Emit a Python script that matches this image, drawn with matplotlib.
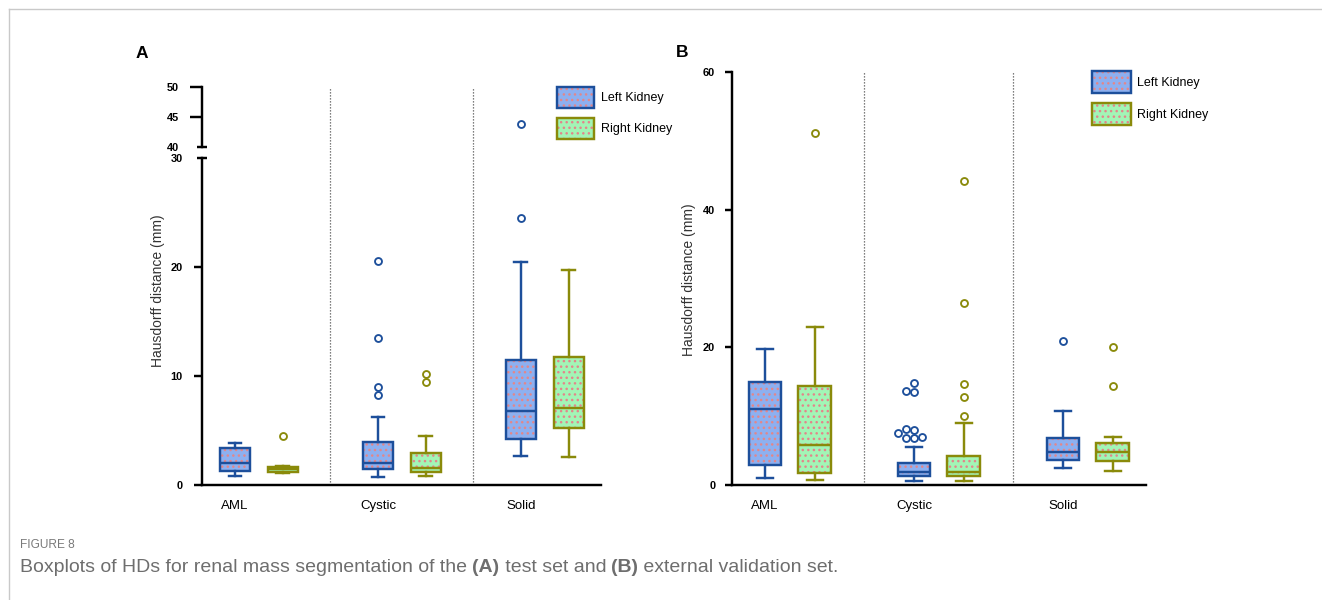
import matplotlib
matplotlib.use('Agg')
import matplotlib.pyplot as plt
from matplotlib.patches import Patch
from matplotlib.lines import Line2D
import numpy as np

plt.rcParams['font.family'] = ['Liberation Sans', 'DejaVu Sans']
plt.rcParams['hatch.linewidth'] = 1.0

# ---------------- data ----------------
categories = ['AML', 'Cystic', 'Solid']
series = ['Left Kidney', 'Right Kidney']

# Panel A (test set)
a_left_q1 = [1.28, 1.44, 4.22]
a_left_med = [1.99, 1.99, 6.79]
a_left_q3 = [3.42, 3.94, 11.47]
a_left_lo = [0.79, 0.70, 2.66]
a_left_hi = [3.88, 6.20, 20.43]
a_left_fliers = [[], [8.26, 9.02, 13.45, 20.55], [24.47, 43.8]]

a_right_q1 = [1.22, 1.17, 5.23]
a_right_med = [1.50, 1.59, 7.09]
a_right_q3 = [1.68, 2.97, 11.71]
a_right_lo = [1.12, 0.83, 2.57]
a_right_hi = [1.70, 4.50, 19.76]
a_right_fliers = [[4.5], [9.42, 10.18], []]

# Panel B (external validation set)
b_left_q1 = [2.90, 1.36, 3.63]
b_left_med = [11.0, 1.94, 4.75]
b_left_q3 = [14.92, 3.15, 6.78]
b_left_lo = [1.02, 0.63, 2.47]
b_left_hi = [19.76, 5.57, 10.8]
b_left_fliers = [[], [6.88, 6.88, 7.02, 7.5, 7.99, 8.14, 13.56, 13.66, 14.77], [20.92]]

b_right_q1 = [1.79, 1.36, 3.49]
b_right_med = [5.81, 1.90, 4.84]
b_right_q3 = [14.38, 4.21, 6.15]
b_right_lo = [0.73, 0.63, 2.08]
b_right_hi = [23.0, 8.96, 6.97]
b_right_fliers = [[51.1], [10.02, 12.78, 14.62, 26.44, 44.17], [14.38, 20.05]]

a_ticks_low = [0, 10, 20, 30]
a_ticks_high = [40, 45, 50]
b_ticks = [0, 20, 40, 60]
ylabel = 'Hausdorff distance (mm)'

# ---------------- style ----------------
W, H = 1322, 600
left_face = '#8db0f0'
left_edge = '#1d4f9b'
right_face = '#a2f5b6'
right_edge = '#8a8a0a'
dot_color = '#e3868a'
LW = 1.75


def make_stats(q1, med, q3, lo, hi):
    return [dict(q1=a, med=b, q3=c, whislo=d, whishi=e, fliers=[])
            for a, b, c, d, e in zip(q1, med, q3, lo, hi)]


def draw_boxes(ax, stats, pos, face, edge, width, capw):
    ax.bxp(stats, positions=pos, widths=width, patch_artist=True, showfliers=False,
           boxprops=dict(facecolor=face, edgecolor=dot_color, linewidth=0, hatch='...'),
           whiskerprops=dict(linewidth=0), capprops=dict(linewidth=0),
           medianprops=dict(linewidth=0), manage_ticks=False, zorder=2)
    ax.bxp(stats, positions=pos, widths=width, patch_artist=True, showfliers=False,
           boxprops=dict(facecolor='none', edgecolor=edge, linewidth=LW, joinstyle='miter'),
           whiskerprops=dict(color=edge, linewidth=LW),
           capprops=dict(color=edge, linewidth=LW),
           medianprops=dict(color=edge, linewidth=LW),
           capwidths=capw, manage_ticks=False, zorder=3)


def swarm_offsets(ax, x, vals, diam_px):
    """Spread coincident outliers sideways (simple swarm)."""
    placed = []
    out = []
    tr = ax.transData
    for v in sorted(vals):
        px0, py = tr.transform((x, v))
        off = 0.0
        cands = [0.0]
        for i in range(1, 12):
            cands += [-0.55 * i * diam_px, 0.55 * i * diam_px]
        for c in cands:
            ok = all((c - ox) ** 2 + (py - oy) ** 2 >= (0.95 * diam_px) ** 2 for ox, oy in placed)
            if ok:
                off = c
                break
        placed.append((off, py))
        out.append((tr.inverted().transform((px0 + off, py))[0], v))
    return out


def draw_fliers(ax, pos, fliers, edge):
    for x, vals in zip(pos, fliers):
        if not vals:
            continue
        pts = swarm_offsets(ax, x, vals, 7.2)
        xs = [p[0] for p in pts]
        ys = [p[1] for p in pts]
        ax.plot(xs, ys, linestyle='none', marker='o', markersize=5.0,
                markerfacecolor='white', markeredgecolor=edge, markeredgewidth=1.35,
                zorder=4)


def style_axis(ax):
    for s in ['top', 'right']:
        ax.spines[s].set_visible(False)
    for s in ['left', 'bottom']:
        ax.spines[s].set_linewidth(LW)
    ax.tick_params(axis='y', width=LW, labelsize=7.9)
    ax.tick_params(axis='x', length=0, labelsize=9.5, pad=11)
    for lab in ax.get_yticklabels():
        lab.set_fontweight('bold')


fig = plt.figure(figsize=(W / 100, H / 100), dpi=100)

# ---------------- Panel A ----------------
ngrp = len(categories)
pos_left = [3 * i for i in range(ngrp)]
pos_right = [3 * i + 1 for i in range(ngrp)]
seps = [3 * i + 2 for i in range(ngrp - 1)]

axA = fig.add_axes([202 / W, 1 - 485 / H, (601 - 202) / W, (485 - 158) / H])
axA2 = fig.add_axes([202 / W, 1 - 147 / H, (601 - 202) / W, (147 - 87) / H])
for ax in (axA, axA2):
    ax.set_xlim(-0.692, 7.68)
    ax.patch.set_alpha(0)
axA.set_ylim(0, 30)
axA2.set_ylim(40, 50)

draw_boxes(axA, make_stats(a_left_q1, a_left_med, a_left_q3, a_left_lo, a_left_hi),
           pos_left, left_face, left_edge, 0.63, 0.27)
draw_boxes(axA, make_stats(a_right_q1, a_right_med, a_right_q3, a_right_lo, a_right_hi),
           pos_right, right_face, right_edge, 0.63, 0.27)
for ax in (axA, axA2):
    draw_fliers(ax, pos_left, a_left_fliers, left_edge)
    draw_fliers(ax, pos_right, a_right_fliers, right_edge)

for s in seps:
    axA.axvline(s, ymin=0, ymax=1 + 11 / 327, color='#555555', linestyle=(0, (1, 1.4)),
                linewidth=0.9, clip_on=False, zorder=1)
    axA2.axvline(s, color='#555555', linestyle=(0, (1, 1.4)), linewidth=0.9, zorder=1)

axA.set_yticks(a_ticks_low)
axA.set_xticks(pos_left)
axA.set_xticklabels(categories)
style_axis(axA)
axA.tick_params(axis='y', length=5.8, pad=8)

axA2.set_yticks(a_ticks_high)
axA2.set_xticks([])
style_axis(axA2)
axA2.spines['bottom'].set_visible(False)
axA2.tick_params(axis='y', length=8.6, pad=8)
for lab in axA2.get_yticklabels():
    lab.set_fontweight('bold')

# break marks at 30 and 40
fig.canvas.draw()
t30 = axA.yaxis.get_major_ticks()[-1]
t30.tick1line.set_marker('_')
t30.tick1line.set_markersize(7)
t30.tick1line.set_markeredgewidth(LW)
t40 = axA2.yaxis.get_major_ticks()[0]
t40.tick1line.set_marker('_')
t40.tick1line.set_markersize(7)
t40.tick1line.set_markeredgewidth(LW)

fig.text(158 / W, 1 - 291 / H, ylabel, rotation=90, ha='center', va='center',
         fontsize=10, color='#333333')
fig.text(136 / W, 1 - 58 / H, 'A', fontsize=12.5, fontweight='bold', ha='left', va='baseline')

legA = [(Patch(facecolor=left_face, edgecolor=dot_color, linewidth=0, hatch='...'),
         Patch(facecolor='none', edgecolor=left_edge, linewidth=LW)),
        (Patch(facecolor=right_face, edgecolor=dot_color, linewidth=0, hatch='...'),
         Patch(facecolor='none', edgecolor=right_edge, linewidth=LW))]
fig.legend(legA, series, loc='upper left', bbox_to_anchor=(557 / W, 1 - 87 / H),
           bbox_transform=fig.transFigure, frameon=False, borderpad=0, borderaxespad=0,
           fontsize=9, handlelength=2.95, handleheight=2.2, labelspacing=0.78,
           handletextpad=0.55)

# ---------------- Panel B ----------------
axB = fig.add_axes([732 / W, 1 - 485 / H, (1146 - 732) / W, (485 - 72) / H])
axB.patch.set_alpha(0)
axB.set_xlim(-0.664, 7.67)
axB.set_ylim(0, 60)
draw_boxes(axB, make_stats(b_left_q1, b_left_med, b_left_q3, b_left_lo, b_left_hi),
           pos_left, left_face, left_edge, 0.66, 0.32)
draw_boxes(axB, make_stats(b_right_q1, b_right_med, b_right_q3, b_right_lo, b_right_hi),
           pos_right, right_face, right_edge, 0.66, 0.32)
draw_fliers(axB, pos_left, b_left_fliers, left_edge)
draw_fliers(axB, pos_right, b_right_fliers, right_edge)
for s in seps:
    axB.axvline(s, color='#555555', linestyle=(0, (1, 1.4)), linewidth=0.9, zorder=1)
axB.set_yticks(b_ticks)
axB.set_xticks(pos_left)
axB.set_xticklabels(categories)
style_axis(axB)
axB.tick_params(axis='y', length=5.0, pad=7)

fig.text(689 / W, 1 - 280 / H, ylabel, rotation=90, ha='center', va='center',
         fontsize=10, color='#333333')
fig.text(676 / W, 1 - 57 / H, 'B', fontsize=12.5, fontweight='bold', ha='left', va='baseline')
fig.legend(legA, series, loc='upper left', bbox_to_anchor=(1092 / W, 1 - 71 / H),
           bbox_transform=fig.transFigure, frameon=False, borderpad=0, borderaxespad=0,
           fontsize=9, handlelength=3.1, handleheight=2.33, labelspacing=0.78,
           handletextpad=0.5)

# ---------------- frame and caption ----------------
fig.add_artist(Line2D([9 / W, 1], [1 - 9 / H, 1 - 9 / H], transform=fig.transFigure,
                      color='#c9c9c9', linewidth=1.0))
fig.add_artist(Line2D([9 / W, 9 / W], [0, 1 - 9 / H], transform=fig.transFigure,
                      color='#c9c9c9', linewidth=1.0))

fig.text(20 / W, 1 - 548 / H, 'FIGURE 8', fontsize=8.6, color='#7a7a7a',
         ha='left', va='baseline')

cap_parts = [('Boxplots of HDs for renal mass segmentation of the ', 'normal'),
             ('(A)', 'bold'), (' test set and ', 'normal'), ('(B)', 'bold'),
             (' external validation set.', 'normal')]
fig.canvas.draw()
renderer = fig.canvas.get_renderer()
xpx = 20
for txt, wt in cap_parts:
    t = fig.text(xpx / W, 1 - 572 / H, txt, fontsize=14.0, color='#6e6e6e',
                 fontweight=wt, ha='left', va='baseline')
    bb = t.get_window_extent(renderer)
    xpx += bb.width

fig.savefig('out.png', dpi=100)
